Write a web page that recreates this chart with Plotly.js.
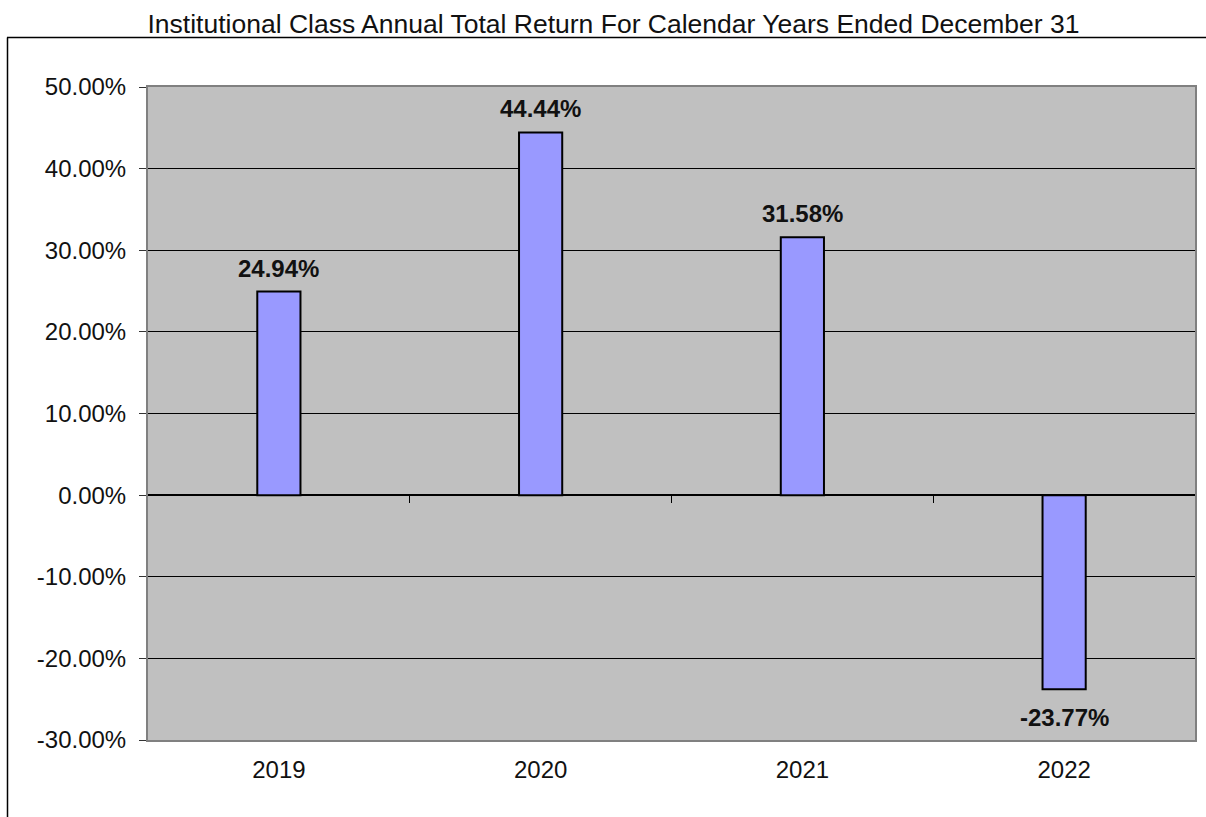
<!DOCTYPE html>
<html>
<head>
<meta charset="utf-8">
<script src="https://cdn.plot.ly/plotly-3.0.1.min.js"></script>
<style>
html,body{margin:0;padding:0;background:#fff;}
#chart{width:1206px;height:817px;}
</style>
</head>
<body>
<div id="chart"></div>
<script>
const years = ["2019", "2020", "2021", "2022"];
const returns = [24.94, 44.44, 31.58, -23.77];
const yTickVals = [50, 40, 30, 20, 10, 0, -10, -20, -30];
const yTickText = ["50.00%", "40.00%", "30.00%", "20.00%", "10.00%", "0.00%", "-10.00%", "-20.00%", "-30.00%"];
const titleText = "Institutional Class Annual Total Return For Calendar Years Ended December 31";

const FONT = "Liberation Sans, Arial, sans-serif";
const W = 1206, H = 817;
const L = 148, R = 11, T = 87, B = 77;
const pw = W - L - R, ph = H - T - B;
const yMin = -30, yMax = 50;
const zeroPos = (0 - yMin) / (yMax - yMin);

const bars = {
  type: "bar",
  x: years,
  y: returns,
  marker: {color: "#9999ff", line: {color: "#000000", width: 2}},
  hoverinfo: "skip",
  cliponaxis: false
};
const boundaryAxisTrace = {
  type: "scatter", x: [], y: [], xaxis: "x2", yaxis: "y", showlegend: false
};

const annotations = years.map((yr, i) => ({
  x: i, y: returns[i], xref: "x", yref: "y",
  text: "<b>" + returns[i].toFixed(2) + "%</b>",
  showarrow: false,
  xanchor: "center",
  yanchor: returns[i] >= 0 ? "bottom" : "top",
  yshift: returns[i] >= 0 ? 8 : -13,
  font: {family: FONT, size: 24, color: "#111"}
}));

const px2x = p => (p - L) / pw;
const py2y = p => (H - B - p) / ph;

const layout = {
  width: W, height: H,
  margin: {l: L, r: R, t: T, b: B, pad: 0},
  paper_bgcolor: "#ffffff",
  plot_bgcolor: "#c0c0c0",
  showlegend: false,
  bargap: 0.835,
  font: {family: FONT, size: 24, color: "#111"},
  title: {
    text: titleText,
    font: {family: FONT, size: 26.5, color: "#111"},
    xref: "paper", x: px2x(613.5), xanchor: "center",
    yref: "container", y: 1 - 24 / H, yanchor: "middle"
  },
  xaxis: {
    type: "category",
    range: [-0.5, 3.5],
    showgrid: false, zeroline: false,
    showline: true, mirror: true, linecolor: "#808080", linewidth: 2,
    ticks: "", ticklabelstandoff: 7,
    tickfont: {family: FONT, size: 24, color: "#111"},
    fixedrange: true
  },
  xaxis2: {
    type: "linear",
    overlaying: "x",
    anchor: "free",
    position: zeroPos,
    range: [-0.5, 3.5],
    tickvals: [0.5, 1.5, 2.5],
    ticks: "outside", ticklen: 7, tickwidth: 1, tickcolor: "#000",
    showticklabels: false, showgrid: false, zeroline: false, showline: false,
    fixedrange: true
  },
  yaxis: {
    range: [yMin, yMax],
    tickvals: yTickVals, ticktext: yTickText,
    showgrid: true, gridcolor: "#000000", gridwidth: 1,
    zeroline: true, zerolinecolor: "#000000", zerolinewidth: 1.5,
    showline: true, mirror: true, linecolor: "#808080", linewidth: 2,
    ticks: "outside", ticklen: 7, tickcolor: "#333", tickwidth: 1,
    ticklabelstandoff: 8,
    tickfont: {family: FONT, size: 24, color: "#111"},
    fixedrange: true
  },
  annotations: annotations,
  shapes: [
    {type: "line", xref: "paper", yref: "paper", x0: px2x(7), x1: px2x(1206), y0: py2y(37.5), y1: py2y(37.5), line: {color: "#000", width: 1.5}},
    {type: "line", xref: "paper", yref: "paper", x0: px2x(7.5), x1: px2x(7.5), y0: py2y(37.5), y1: py2y(817), line: {color: "#000", width: 1.5}}
  ]
};

Plotly.newPlot("chart", [bars, boundaryAxisTrace], layout, {displayModeBar: false, staticPlot: true});
</script>
</body>
</html>
